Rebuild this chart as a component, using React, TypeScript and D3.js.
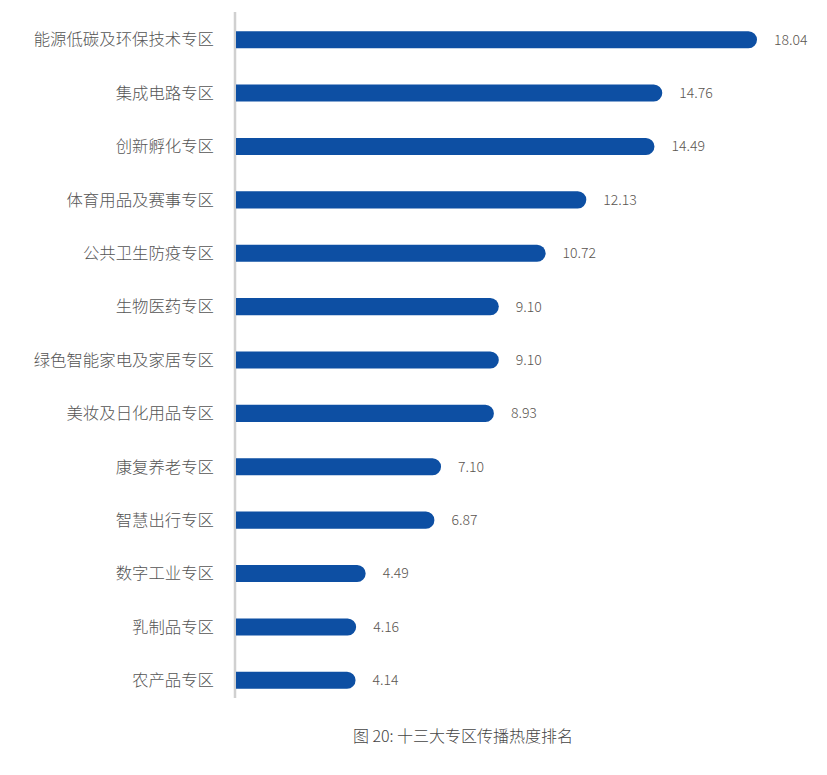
import { useEffect, useRef } from "react"
import * as d3 from "d3"

const categories = [
  "能源低碳及环保技术专区",
  "集成电路专区",
  "创新孵化专区",
  "体育用品及赛事专区",
  "公共卫生防疫专区",
  "生物医药专区",
  "绿色智能家电及家居专区",
  "美妆及日化用品专区",
  "康复养老专区",
  "智慧出行专区",
  "数字工业专区",
  "乳制品专区",
  "农产品专区",
]

const values = [18.04, 14.76, 14.49, 12.13, 10.72, 9.1, 9.1, 8.93, 7.1, 6.87, 4.49, 4.16, 4.14]

const caption = "图 20: 十三大专区传播热度排名"

const FONT = "'Noto Sans CJK SC', 'Noto Sans', sans-serif"

export default function App() {
  const svgRef = useRef<SVGSVGElement>(null)

  useEffect(() => {
    if (!svgRef.current) return
    const width = 827
    const height = 775
    const svg = d3.select(svgRef.current)
    svg.selectAll("*").remove()

    const axisX = 235
    const x = d3.scaleLinear().domain([0, 18.04]).range([axisX + 1, 757])
    const y = d3
      .scaleBand<string>()
      .domain(categories)
      .range([13, 707])
      .paddingInner(0.68)
      .paddingOuter(0.34)

    const bh = y.bandwidth()
    const r = bh / 2

    // axis line
    svg
      .append("line")
      .attr("x1", axisX)
      .attr("x2", axisX)
      .attr("y1", 12)
      .attr("y2", 698)
      .attr("stroke", "#d0d0d0")
      .attr("stroke-width", 2.5)

    // bars: square left, rounded right
    svg
      .append("g")
      .selectAll("path")
      .data(categories)
      .join("path")
      .attr("fill", "#0d4fa3")
      .attr("d", (c, i) => {
        const x0 = x(0)
        const x1 = x(values[i])
        const y0 = y(c)!
        return `M${x0},${y0}H${x1 - r}A${r},${r} 0 0 1 ${x1},${y0 + r}A${r},${r} 0 0 1 ${x1 - r},${y0 + bh}H${x0}Z`
      })

    // category labels
    svg
      .append("g")
      .selectAll("text")
      .data(categories)
      .join("text")
      .attr("x", 214)
      .attr("y", (c) => y(c)! + r)
      .attr("dy", "0.35em")
      .attr("text-anchor", "end")
      .attr("font-family", FONT)
      .attr("font-size", 16.4)
      .attr("font-weight", 300)
      .attr("fill", "#555")
      .text((c) => c)

    // value labels
    svg
      .append("g")
      .selectAll("text")
      .data(categories)
      .join("text")
      .attr("x", (c, i) => x(values[i]) + 17)
      .attr("y", (c) => y(c)! + r)
      .attr("dy", "0.35em")
      .attr("font-family", FONT)
      .attr("font-size", 14)
      .attr("font-weight", 300)
      .attr("fill", "#5a5550")
      .text((c, i) => values[i].toFixed(2))

    svg
      .append("text")
      .attr("x", 463)
      .attr("y", 736)
      .attr("dy", "0.35em")
      .attr("text-anchor", "middle")
      .attr("font-family", FONT)
      .attr("font-size", 16)
      .attr("font-weight", 300)
      .attr("fill", "#444")
      .text(caption)

    svg.attr("width", width).attr("height", height)
  }, [])

  return (
    <div style={{ position: "absolute", left: 0, top: 0, background: "#fff" }}>
      <svg ref={svgRef} width={827} height={775} style={{ display: "block" }} />
    </div>
  )
}
